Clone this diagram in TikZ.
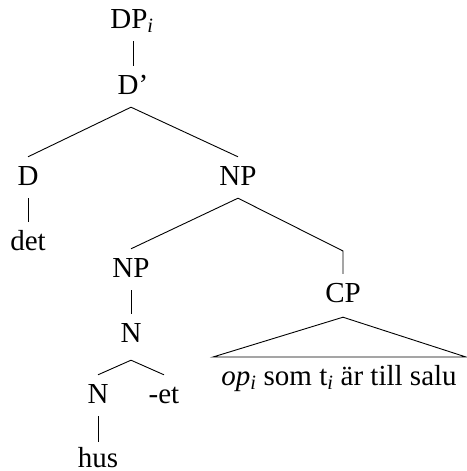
\documentclass[tikz,border=0pt]{standalone}
\usepackage{fontspec}
\setmainfont{Liberation Serif}
\begin{document}
\begin{tikzpicture}[x=1pt,y=-1pt,
  lbl/.style={font=\fontsize{29}{35}\selectfont, anchor=base, inner xsep=0pt, inner ysep=9pt, text height=19pt, text depth=4pt},
  edge/.style={draw=black, line width=0.9pt}]
\useasboundingbox (0,0) rectangle (466,471);
\node[lbl] (dp) at (132,28) {DP\textsubscript{\textit{i}}};
\node[lbl] (dbar) at (133,94) {D’};
\node[lbl] (d) at (28,185) {D};
\node[lbl] (np) at (238,185) {NP};
\node[lbl] (det) at (28,250) {det};
\node[lbl] (np2) at (131,277) {NP};
\node[lbl] (n) at (131,342) {N};
\node[lbl] (n2) at (98,403) {N};
\node[lbl] (et) at (164,403) {-et};
\node[lbl, text depth=0pt, inner ysep=2pt] (hus) at (98,467) {hus};
\node[lbl] (cp) at (343,302) {CP};
\node[lbl] (s) at (339,385) {\textit{op}\textsubscript{\textit{i}} som t\textsubscript{\textit{i}} är till salu};
\coordinate (bend) at (343,251);
\coordinate (tl) at (213,357);
\coordinate (tr) at (466,357);
\draw[edge] ([xshift=1pt]dp.south) -- (dbar.north);
\draw[edge] ([xshift=-2pt]dbar.south) -- (d.north);
\draw[edge] ([xshift=-2pt]dbar.south) -- (np.north);
\draw[edge] (d.south) -- (det.north);
\draw[edge] (np.south) -- (np2.north);
\draw[edge] (np.south) -- (bend) -- (cp.north);
\draw[edge] (np2.south) -- (n.north);
\draw[edge] ([yshift=-5pt]n.south) -- (n2.north);
\draw[edge] ([yshift=-5pt]n.south) -- (et.north);
\draw[edge] (n2.south) -- ([yshift=4pt]hus.north);
\draw[edge] ([yshift=-2pt]cp.south) -- (tl) -- (tr) -- cycle;
\end{tikzpicture}
\end{document}
